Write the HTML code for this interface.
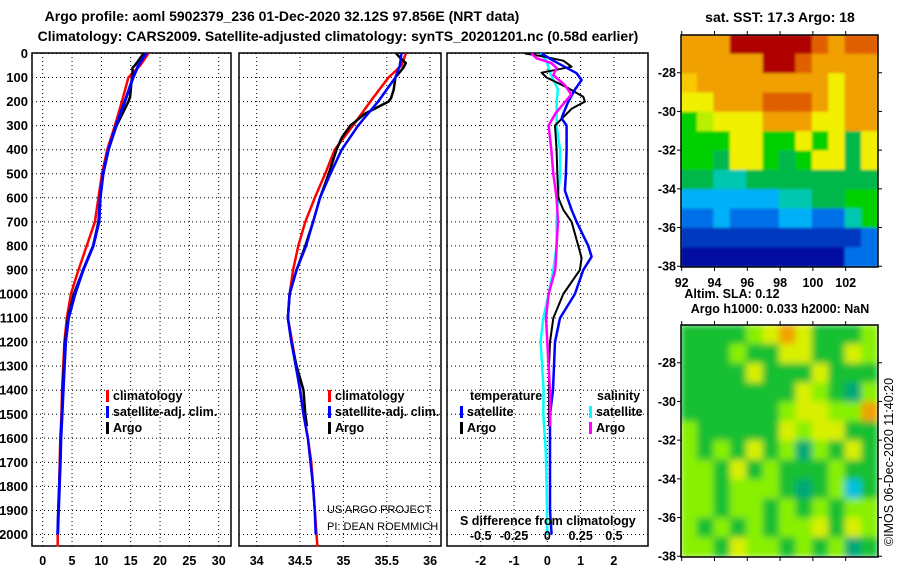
<!DOCTYPE html>
<html><head><meta charset="utf-8"><style>
body{margin:0;background:#fff;}
svg{display:block;font-family:"Liberation Sans",Arial,sans-serif;}
.b{font-weight:bold;font-size:12.5px;}
.d{font-weight:bold;font-size:13px;}
.t{font-weight:bold;font-size:14px;}
</style></head><body>
<svg id="c" width="900" height="580" viewBox="0 0 900 580">
<text class="t" x="282" y="21" text-anchor="middle">Argo profile: aoml 5902379_236 01-Dec-2020 32.12S 97.856E (NRT data)</text>
<text class="t" x="338" y="41" text-anchor="middle">Climatology: CARS2009. Satellite-adjusted climatology: synTS_20201201.nc (0.58d earlier)</text>
<text class="t" x="780" y="22" text-anchor="middle">sat. SST: 17.3 Argo: 18</text>
<text class="b" x="732" y="298" text-anchor="middle">Altim. SLA: 0.12</text>
<text class="b" x="780" y="313" text-anchor="middle">Argo h1000: 0.033 h2000: NaN</text>
<text x="893" y="462" font-size="12.5" text-anchor="middle" transform="rotate(-90 893 462)">©IMOS 06-Dec-2020 11:40:20</text>
<g id="g"></g>
</svg>
<script>
// ---- data ----
const depthTClim=[0,50,100,200,300,400,500,600,700,800,900,1000,1100,1200,1400,1500,1600,1700,1800,1900,2000,2050];
const tempClim=[18.0,16.6,14.6,13.5,12.3,11.0,10.1,9.5,8.9,7.5,6.1,4.8,4.1,3.7,3.3,3.2,3.0,2.9,2.8,2.65,2.55,2.55];
const depthTSat=[0,50,100,200,300,400,500,600,700,800,900,1000,1100,1200,1400,1500,1600,1700,1800,1900,2000];
const tempSat=[17.6,16.3,15.4,14.0,12.5,11.2,10.3,9.8,9.6,8.6,6.9,5.5,4.4,3.9,3.5,3.3,3.1,3.0,2.85,2.7,2.55];
const depthTArgo=[0,50,60,90,100,180,200,300,400,500,600,700,800,900,1000,1100,1200,1400,1550];
const tempArgo=[17.2,15.7,15.3,15.3,15.2,14.9,14.6,12.6,11.2,10.3,9.8,9.5,8.6,6.9,5.3,4.3,3.8,3.4,3.2];
const salClim=[35.72,35.67,35.52,35.31,35.11,34.90,34.79,34.67,34.56,34.48,34.42,34.38,34.36,34.41,34.50,34.54,34.59,34.63,34.65,34.67,34.69,34.70];
const salSat=[35.67,35.65,35.60,35.40,35.17,34.98,34.85,34.73,34.65,34.57,34.46,34.38,34.36,34.40,34.50,34.54,34.59,34.62,34.65,34.67,34.68];
const depthSArgo=[0,20,40,60,100,150,185,200,250,300,350,400,500,600,700,800,900,1000,1100,1200,1300,1400,1500,1550];
const salArgo=[35.61,35.66,35.72,35.69,35.60,35.58,35.55,35.52,35.25,35.08,34.98,34.92,34.83,34.73,34.65,34.56,34.46,34.38,34.36,34.40,34.46,34.54,34.56,34.58];
const depthDiffT=[0,30,82,110,150,200,250,270,300,400,500,570,650,700,800,845,900,1000,1100,1200,1300,1400,1500,1700,1900,2000];
const dTempSat=[-0.17,0.18,0.88,1.03,0.83,0.63,0.48,0.43,0.58,0.58,0.56,0.53,0.73,0.88,1.23,1.33,1.08,0.83,0.38,0.23,0.2,0.17,0.08,0.08,0.08,0.13];
const depthDiffTA=[0,10,30,55,80,100,140,180,200,230,300,400,500,600,650,700,800,850,900,950,1000,1100,1200,1300,1550];
const dTempArgo=[-0.67,-0.22,0.48,0.73,-0.17,-0.02,0.58,1.08,1.13,0.73,0.23,0.28,0.3,0.33,0.48,0.73,0.93,1.03,0.98,0.73,0.48,0.18,0.08,0.05,0.05];
const depthDiffS=[0,30,80,150,200,300,400,500,600,700,800,900,1000,1100,1200,1400,1500,1650,1800,2000];
const dSalSat=[-0.055,-0.005,0.02,0.08,0.07,0.07,0.095,0.095,0.08,0.07,0.07,0.045,0.01,-0.03,-0.05,-0.028,-0.03,-0.012,-0.005,0.0];
const depthDiffSA=[0,20,40,60,90,130,170,210,250,300,350,400,500,600,700,800,900,1000,1100,1200,1400,1550];
const dSalArgo=[-0.12,-0.08,0.03,0.07,0.045,0.13,0.18,0.12,0.06,0.01,0.02,0.03,0.045,0.07,0.08,0.07,0.06,0.01,-0.01,0.0,0.02,0.02];
const depthTicks=[0,100,200,300,400,500,600,700,800,900,1000,1100,1200,1300,1400,1500,1600,1700,1800,1900,2000];
const tTicks=[0,5,10,15,20,25,30];
const sTicks=[34,34.5,35,35.5,36];
const dTTicks=[-2,-1,0,1,2];
const dSTickLabels=["-0.5","-0.25","0","0.25","0.5"];
const dSTicks=[-0.5,-0.25,0,0.25,0.5];
const latTicks=[-28,-30,-32,-34,-36,-38];
const lonTicks=[92,94,96,98,100,102];
const sstRows=["OOODDDDDRORR","OOOOODDROOOO","oOOOOOOOOYOO","YYOOORRROYOO","GyYYYOOOYYOO","GGGYYGGYGYgY","GGgYYGgGYYgY","ggTTgggggggg","CCCCCCTTggGG","BBCBBBCCBBTG","bbbbbbbbbbbB","NNNNNNNNNNBB"];
const slaRows=["ggggLYOYgggL","gggLggYYggYL","ggggYgggYggg","gggggggYLgTL","ggggggLYYLLO","LgggggYLYYgg","LgLgYgLTLgYg","LLgYgLgggLgg","LLgLLLgTgLCg","LLgLLgLgLgLL","LgLgLgLLYgYL","LLgYLLgLgLTg"];
// ---- scales ----
const yD=d=>53.5+d*0.2405;
const x1=t=>42.7+t*5.867;
const x2=s=>256.7+(s-34)*86.7;
const x3T=v=>547.3+v*33.3;
const x3S=v=>547.3+v*133.3;
const NS="http://www.w3.org/2000/svg";
const G=document.getElementById('g');
function mk(tag,a,txt){const e=document.createElementNS(NS,tag);for(const k in a)e.setAttribute(k,a[k]);if(txt!==undefined)e.textContent=txt;G.appendChild(e);return e;}
const panels=[{l:32,r:231,xs:x1,ticks:tTicks,lab:tTicks.map(String),n:'temperature'},{l:239,r:441,xs:x2,ticks:sTicks,lab:sTicks.map(String),n:'salinity'},{l:447,r:648,xs:x3T,ticks:dTTicks,lab:dTTicks.map(String),n:'difference'}];
const pTop=53,pBot=546;
panels.forEach(p=>{
  depthTicks.forEach(d=>{const e=mk('line',{x1:p.l,x2:p.r,y1:yD(d),y2:yD(d),stroke:'#000','stroke-width':1,'stroke-dasharray':'1,3'});
  
  });
  p.ticks.forEach((t,i)=>{const x=p.xs(t);const e=mk('line',{x1:x,x2:x,y1:pTop,y2:pBot,stroke:'#000','stroke-width':1,'stroke-dasharray':'1,3'});
  
  
  const tx=mk('text',{x:x,y:565,'text-anchor':'middle',class:'b'},p.lab[i]);
  
  });
  const r=mk('rect',{x:p.l,y:pTop,width:p.r-p.l,height:pBot-pTop,fill:'none',stroke:'#000','stroke-width':1.5});
  
  
});
depthTicks.forEach(d=>{const e=mk('text',{x:28,y:yD(d)+4.5,'text-anchor':'end',class:'d'},String(d));

});
function line(xs,ds,vals,col,w,name){const pts=vals.map((v,i)=>xs(v).toFixed(1)+','+yD(ds[i]).toFixed(1)).join(' ');
const e=mk('polyline',{points:pts,fill:'none',stroke:col,'stroke-width':w,'stroke-linejoin':'round'});

}
line(x1,depthTClim,tempClim,'#f00',2.5,'temp-climatology-line');
line(x1,depthTArgo,tempArgo,'#000',2.5,'temp-argo-line');
line(x1,depthTSat,tempSat,'#00f',3,'temp-satellite-line');
line(x2,depthTClim,salClim,'#f00',2.5,'sal-climatology-line');
line(x2,depthSArgo,salArgo,'#000',2.5,'sal-argo-line');
line(x2,depthTSat,salSat,'#00f',2.5,'sal-satellite-line');
line(x3S,depthDiffS,dSalSat,'#0ff',2.5,'dsal-satellite-line');
line(x3T,depthDiffTA,dTempArgo,'#000',2,'dtemp-argo-line');
line(x3T,depthDiffT,dTempSat,'#00f',2.5,'dtemp-satellite-line');
line(x3S,depthDiffSA,dSalArgo,'#f0f',2.5,'dsal-argo-line');
function leg(x,y,col,txt,name){const m=mk('rect',{x:x,y:y-10,width:3,height:12,fill:col});


const t=mk('text',{x:x+7,y:y,class:'b'},txt);

}
leg(106,400,'#f00','climatology','legend-climatology');
leg(106,416,'#00f','satellite-adj. clim.','legend-satellite-adj');
leg(106,432,'#000','Argo','legend-argo');
leg(328,400,'#f00','climatology','legend2-climatology');
leg(328,416,'#00f','satellite-adj. clim.','legend2-satellite-adj');
leg(328,432,'#000','Argo','legend2-argo');
leg(460,416,'#00f','satellite','legend-temp-satellite');
leg(460,432,'#000','Argo','legend-temp-argo');
leg(589,416,'#0ff','satellite','legend-sal-satellite');
leg(589,432,'#f0f','Argo','legend-sal-argo');
let e;
e=mk('text',{x:470,y:400,class:'b'},'temperature');
e=mk('text',{x:597,y:400,class:'b'},'salinity');
e=mk('text',{x:460,y:525,class:'b'},'S difference from climatology');
dSTicks.forEach((v,i)=>{const t=mk('text',{x:x3S(v),y:540,'text-anchor':'middle',class:'b'},dSTickLabels[i]);

});
e=mk('text',{x:327,y:513,'font-size':'11'},'US ARGO PROJECT');
e=mk('text',{x:327,y:530,'font-size':'11'},'PI: DEAN ROEMMICH');
// ---- maps ----
const sstCol={D:'#b00000',R:'#e06000',O:'#f0a000',o:'#f8c800',Y:'#f0f000',y:'#b8f000',G:'#00d000',g:'#00b848',T:'#00c8b0',C:'#00b0f8',B:'#0070e8',b:'#0038c0',N:'#0010a0'};
const slaCol={g:'#18c030',L:'#88f000',Y:'#d8f000',O:'#f0a000',T:'#00a878',C:'#00c0e0'};
const defs=mk('defs',{});
defs.innerHTML='<filter id="bl1" x="0" y="0" width="1" height="1"><feGaussianBlur stdDeviation="1.2"/></filter><filter id="bl2" x="0" y="0" width="1" height="1"><feGaussianBlur stdDeviation="3.5"/></filter><clipPath id="cp1"><rect x="681" y="35" width="197" height="232"/></clipPath><clipPath id="cp2"><rect x="681" y="325" width="197" height="232"/></clipPath>';
function map(rows,cols,y0,filt,clip,name){
  const g=mk('g',{'clip-path':'url(#'+clip+')'});
  
  
  const inner=document.createElementNS(NS,'g');inner.setAttribute('filter','url(#'+filt+')');g.appendChild(inner);
  const cw=197/12,ch=232/12;
  rows.forEach((r,j)=>{[...r].forEach((c,i)=>{const q=document.createElementNS(NS,'rect');
  q.setAttribute('x',681+i*cw-0.5);q.setAttribute('y',y0+j*ch-0.5);q.setAttribute('width',cw+1);q.setAttribute('height',ch+1);q.setAttribute('fill',cols[c]);
  
  
  inner.appendChild(q);});});
  const fr=mk('rect',{x:681,y:y0,width:197,height:232,fill:'none',stroke:'#000','stroke-width':1.5});
  
  
  latTicks.forEach(la=>{const y=y0+(-26.05-la)*19.35;
    const t=mk('text',{x:676,y:y+4.5,'text-anchor':'end',class:'b'},String(la));
    
    
    mk('line',{x1:677,x2:681,y1:y,y2:y,stroke:'#000'});mk('line',{x1:878,x2:882,y1:y,y2:y,stroke:'#000'});});
  lonTicks.forEach(lo=>{const x=681.7+(lo-92)*16.4;mk('line',{x1:x,x2:x,y1:y0-4,y2:y0,stroke:'#000'});mk('line',{x1:x,x2:x,y1:y0+232,y2:y0+236,stroke:'#000'});});
}
map(sstRows,sstCol,35,'bl1','cp1','sst-map');
map(slaRows,slaCol,325,'bl2','cp2','sla-map');
lonTicks.forEach(lo=>{const t=mk('text',{x:681.7+(lo-92)*16.4,y:287,'text-anchor':'middle',class:'b'},String(lo));

});
</script>
</body></html>
